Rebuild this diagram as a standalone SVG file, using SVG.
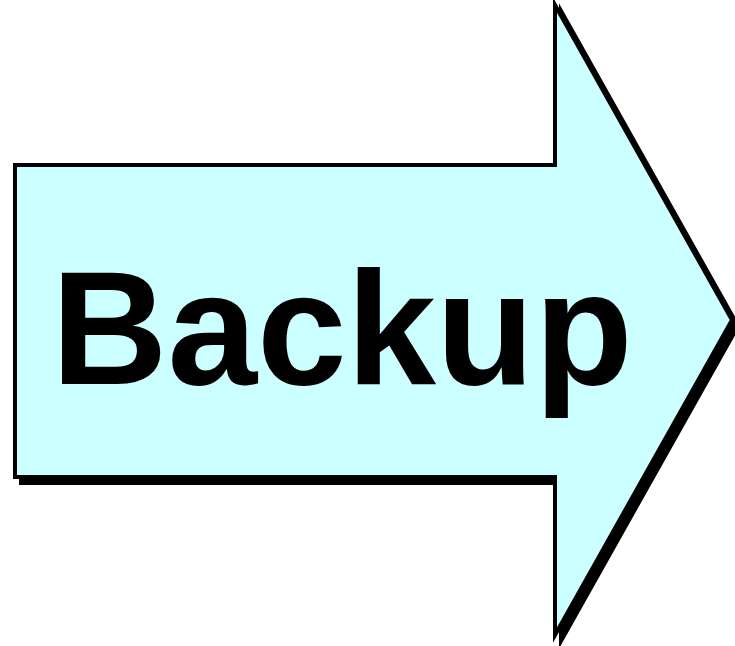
<svg xmlns="http://www.w3.org/2000/svg" width="735" height="646" viewBox="0 0 735 646">
<style>
.shadow{fill:#000;stroke:#000;stroke-width:4;stroke-linejoin:miter}
.body{fill:#CCFFFF;stroke:#000;stroke-width:4;stroke-linejoin:miter}
.lbl{font-family:"Liberation Sans",Arial,sans-serif;font-weight:bold;font-size:161px;fill:#000}
</style>
<defs>
<polygon id="arrowShape" points="15,165 555,165 555,5 732,320 555,635 555,477 15,477"/>
</defs>
<rect width="735" height="646" fill="#fff"/>
<g id="arrow">
<use href="#arrowShape" class="shadow" transform="translate(6,6)"/>
<use href="#arrowShape" class="body"/>
<text class="lbl" x="342" y="384" text-anchor="middle">Backup</text>
</g>
</svg>
